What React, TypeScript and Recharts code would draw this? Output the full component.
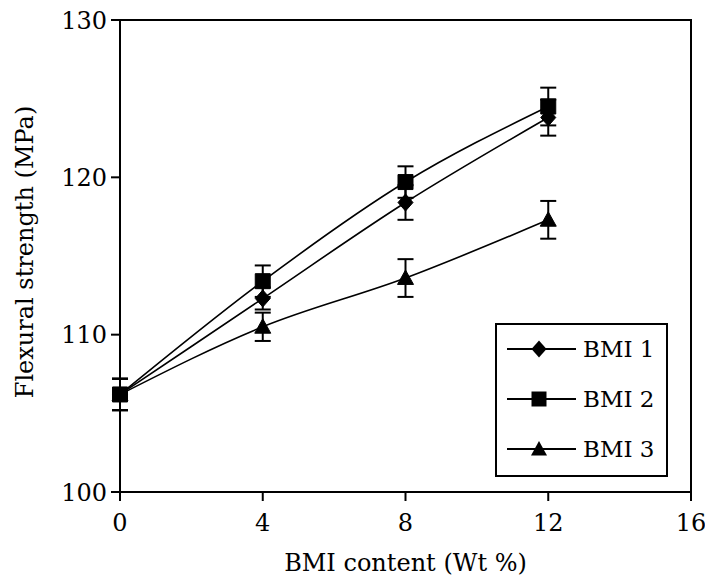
import React from 'react';
import { LineChart, Line, XAxis, YAxis, ErrorBar, ReferenceArea, Legend } from 'recharts';

const bmiContent = [0, 4, 8, 12];
const bmi1 = [106.2, 112.3, 118.4, 123.8];
const bmi2 = [106.2, 113.4, 119.7, 124.5];
const bmi3 = [106.2, 110.5, 113.6, 117.3];
const bmi1Err = [1.0, 0.7, 1.1, 1.15];
const bmi2Err = [1.0, 1.0, 1.0, 1.2];
const bmi3Err = [1.0, 0.9, 1.2, 1.2];
const xTicks = [0, 4, 8, 12, 16];
const yTicks = [100, 110, 120, 130];
const seriesNames = ['BMI 1', 'BMI 2', 'BMI 3'];

const data = bmiContent.map((x, i) => ({
  x,
  b1: bmi1[i],
  b2: bmi2[i],
  b3: bmi3[i],
  e1: bmi1Err[i],
  e2: bmi2Err[i],
  e3: bmi3Err[i],
}));

const FONT = '"DejaVu Serif", serif';

function markerPath(shape: string, cx: number, cy: number): string {
  if (shape === 'diamond') {
    const w = 7.5, h = 8.5;
    return `M${cx},${cy - h}L${cx + w},${cy}L${cx},${cy + h}L${cx - w},${cy}Z`;
  }
  if (shape === 'square') {
    const s = 7.5;
    return `M${cx - s},${cy - s}L${cx + s},${cy - s}L${cx + s},${cy + s}L${cx - s},${cy + s}Z`;
  }
  const w = 8, h = 8;
  return `M${cx},${cy - h}L${cx + w},${cy + h * 0.8}L${cx - w},${cy + h * 0.8}Z`;
}

const makeDot = (shape: string) => (props: any) => {
  const { cx, cy, index } = props;
  if (cx == null || cy == null) return <g key={`${shape}-${index}`} />;
  return <path key={`${shape}-${index}`} d={markerPath(shape, cx, cy)} fill="#000" stroke="#000" strokeWidth={1} />;
};

const shapes = ['diamond', 'square', 'triangle'];

const LegendContent = () => (
  <div
    style={{
      width: 173,
      height: 154,
      boxSizing: 'border-box',
      border: '2px solid #000',
      background: '#fff',
      position: 'relative',
    }}
  >
    {seriesNames.map((name, i) => (
      <div key={name} style={{ position: 'absolute', left: 8, top: 24 + i * 50 - 14, height: 28, display: 'flex', alignItems: 'center' }}>
        <svg width={72} height={28} style={{ display: 'block' }}>
          <line x1={2} y1={14} x2={71} y2={14} stroke="#000" strokeWidth={2} />
          <path d={markerPath(shapes[i], 34, 14)} fill="#000" />
        </svg>
        <span style={{ fontFamily: FONT, fontSize: 23, color: '#000', marginLeft: 6, lineHeight: '28px' }}>{name}</span>
      </div>
    ))}
  </div>
);

export default function App() {
  return (
    <div style={{ position: 'absolute', left: 0, top: 0, background: '#fff' }}>
      <LineChart width={705} height={581} data={data} margin={{ top: 20, right: 14, left: 0, bottom: 0 }}>
        <XAxis
          dataKey="x"
          type="number"
          domain={[0, 16]}
          ticks={xTicks}
          height={89}
          axisLine={{ stroke: '#000', strokeWidth: 2 }}
          tickLine={{ stroke: '#000', strokeWidth: 2 }}
          tickSize={9}
          tickMargin={13}
          tick={{ fill: '#000', fontFamily: FONT, fontSize: 24 }}
          label={{ value: 'BMI content (Wt %)', position: 'insideBottom', offset: 10, fill: '#000', fontFamily: FONT, fontSize: 24 }}
        />
        <YAxis
          type="number"
          domain={[100, 130]}
          ticks={yTicks}
          width={120}
          axisLine={{ stroke: '#000', strokeWidth: 2 }}
          tickLine={{ stroke: '#000', strokeWidth: 2 }}
          tickSize={9}
          tickMargin={4}
          tick={{ fill: '#000', fontFamily: FONT, fontSize: 24 }}
          label={{
            content: (p: any) => {
              const vb = p.viewBox || { x: 0, y: 20, width: 120, height: 472 };
              const cx = 33;
              const cy = vb.y + vb.height / 2 - 4;
              return (
                <text x={cx} y={cy} transform={`rotate(-90, ${cx}, ${cy})`} textAnchor="middle" fill="#000" fontFamily={FONT} fontSize={24}>
                  Flexural strength (MPa)
                </text>
              );
            },
          }}
        />
        <ReferenceArea x1={0} x2={16} y1={100} y2={130} fill="none" stroke="#000" strokeWidth={2} ifOverflow="visible" />
        <Legend
          layout="vertical"
          align="center"
          verticalAlign="middle"
          content={<LegendContent />}
          wrapperStyle={{ position: 'absolute', left: 495, top: 323, width: 173, height: 154 }}
        />
        <Line name={seriesNames[0]} dataKey="b1" type="monotone" stroke="#000" strokeWidth={1.6} dot={makeDot('diamond')} activeDot={false} isAnimationActive={false}>
          <ErrorBar dataKey="e1" direction="y" width={8} stroke="#000" strokeWidth={2} />
        </Line>
        <Line name={seriesNames[1]} dataKey="b2" type="monotone" stroke="#000" strokeWidth={1.6} dot={makeDot('square')} activeDot={false} isAnimationActive={false}>
          <ErrorBar dataKey="e2" direction="y" width={8} stroke="#000" strokeWidth={2} />
        </Line>
        <Line name={seriesNames[2]} dataKey="b3" type="monotone" stroke="#000" strokeWidth={1.6} dot={makeDot('triangle')} activeDot={false} isAnimationActive={false}>
          <ErrorBar dataKey="e3" direction="y" width={8} stroke="#000" strokeWidth={2} />
        </Line>
      </LineChart>
    </div>
  );
}
